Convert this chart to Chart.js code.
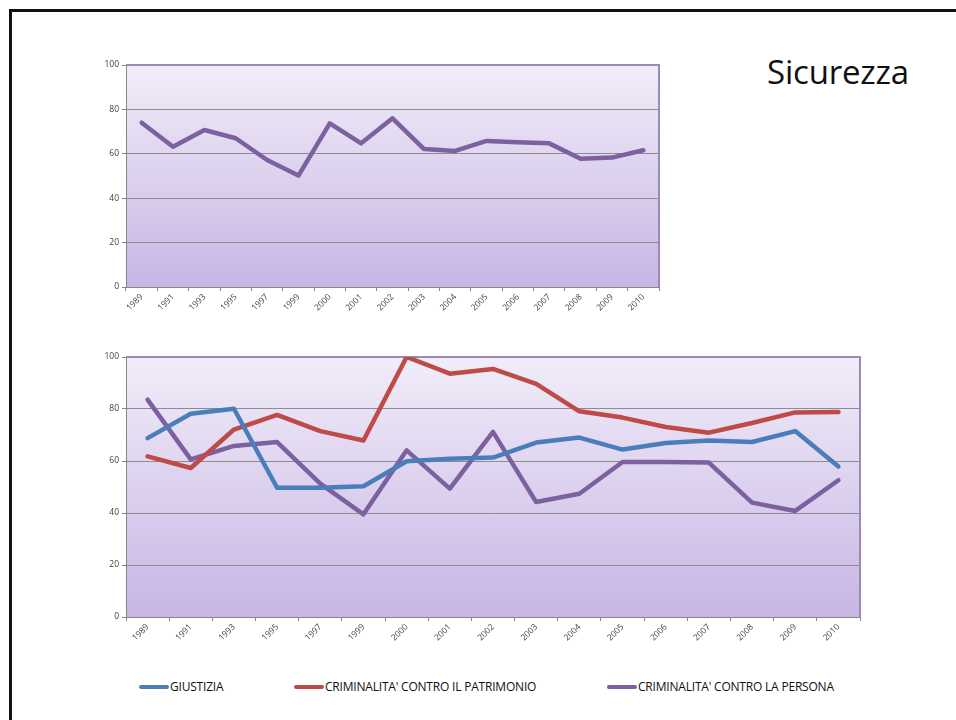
<!DOCTYPE html>
<html>
<head>
<meta charset="utf-8">
<script src="https://cdn.jsdelivr.net/npm/chart.js@4/dist/chart.umd.min.js"></script>
<style>
  html, body { margin: 0; padding: 0; background: #fff; overflow: hidden; }
  body { width: 956px; height: 720px; position: relative; font-family: "Open Sans", sans-serif; }
  .frame { position: absolute; left: 9px; top: 9px; width: 1000px; height: 1000px; border: 3px solid #111; box-sizing: border-box; }
  .title { position: absolute; left: 767px; top: 52px; font-size: 33px; line-height: 40px; color: #111; letter-spacing: -0.2px; }
  canvas { position: absolute; }
  #top-chart { left: 80px; top: 55px; }
  #bottom-chart { left: 80px; top: 345px; }
  .legend { position: absolute; top: 679px; left: 0; width: 956px; height: 16px; font-size: 12px; color: #111; }
  .legend-item { position: absolute; top: 0; white-space: nowrap; line-height: 16px; letter-spacing: -0.2px; }
  .legend-item span.swatch { display: inline-block; width: 30px; height: 4px; border-radius: 2px; vertical-align: middle; margin-right: 1px; position: relative; top: -1px; }
</style>
</head>
<body>
<div class="frame"></div>
<div class="title">Sicurezza</div>
<canvas id="top-chart" width="590" height="275"></canvas>
<canvas id="bottom-chart" width="800" height="315"></canvas>
<div class="legend" id="legend"></div>

<script>
const years = ['1989', '1991', '1993', '1995', '1997', '1999', '2000', '2001', '2002',
    '2003', '2004', '2005', '2006', '2007', '2008', '2009', '2010'];

// top chart: sicurezza
const sicurezza = [74.0, 63.2, 70.7, 67.0, 57.2, 50.2, 73.7, 64.7, 76.0,
    62.2, 61.3, 65.8, 65.2, 64.7, 57.8, 58.3, 61.6];

// bottom chart
const seriesNames = ['GIUSTIZIA', "CRIMINALITA' CONTRO IL PATRIMONIO", "CRIMINALITA' CONTRO LA PERSONA"];
const giustizia = [68.8, 78.2, 80.1, 49.7, 49.7, 50.3, 59.9, 60.9, 61.3,
    67.1, 69.0, 64.4, 66.9, 67.9, 67.3, 71.5, 57.9];
const patrimonio = [61.8, 57.3, 72.1, 77.7, 71.5, 67.9, 100, 93.6, 95.4,
    89.7, 79.1, 76.7, 73.1, 70.9, 74.6, 78.7, 78.8];
const persona = [83.6, 60.6, 65.8, 67.3, 51.3, 39.5, 64.1, 49.4, 71.2,
    44.2, 47.4, 59.6, 59.6, 59.4, 44.0, 40.8, 52.6];

const yTicks = [0, 20, 40, 60, 80, 100];

const colors = ['#4a7ebb', '#be4b48', '#7d60a0'];

// plot area background + frame
const plotArea = {
    id: 'plotArea',
    beforeDraw(chart) {
        const a = chart.chartArea;
        const ctx = chart.ctx;
        const g = ctx.createLinearGradient(0, a.top, 0, a.bottom);
        g.addColorStop(0, '#f1edf9');
        g.addColorStop(1, '#c8b5e4');
        ctx.save();
        ctx.fillStyle = g;
        ctx.fillRect(a.left, a.top, a.right - a.left, a.bottom - a.top);
        ctx.restore();
    },
    beforeDatasetsDraw(chart) {
        const a = chart.chartArea;
        const ctx = chart.ctx;
        ctx.save();
        ctx.strokeStyle = '#9a8ab8';
        ctx.lineWidth = 2;
        ctx.beginPath();
        ctx.moveTo(a.left, a.top);
        ctx.lineTo(a.right, a.top);
        ctx.lineTo(a.right, a.bottom);
        ctx.stroke();
        ctx.restore();
    }
};

function makeOptions(pad) {
    return {
        responsive: false,
        animation: false,
        layout: { padding: pad },
        plugins: {
            legend: { display: false },
            tooltip: { enabled: false }
        },
        elements: {
            point: { radius: 0 },
            line: { tension: 0, borderCapStyle: 'round', borderJoinStyle: 'round' }
        },
        scales: {
            x: {
                offset: true,
                grid: { offset: true, drawOnChartArea: false, drawTicks: true, tickLength: 4, tickColor: '#868686' },
                border: { color: '#868686', width: 1 },
                ticks: {
                    autoSkip: false, minRotation: 45, maxRotation: 45, padding: 1,
                    color: '#404040', font: { family: 'Open Sans', size: 8.5 }
                },
                afterFit(scale) { scale.height = pad.xh; }
            },
            y: {
                min: 0, max: 100,
                afterBuildTicks(scale) { scale.ticks = yTicks.map(v => ({ value: v })); },
                grid: { color: '#8c8c8c', lineWidth: 1, drawTicks: true, tickLength: 4, tickColor: '#868686' },
                border: { color: '#868686', width: 1 },
                ticks: { padding: 3, color: '#404040', font: { family: 'Open Sans', size: 8.5 } },
                afterFit(scale) { scale.width = 46; }
            }
        }
    };
}

new Chart(document.getElementById('top-chart'), {
    type: 'line',
    data: {
        labels: years,
        datasets: [{
            label: 'Sicurezza',
            data: sicurezza,
            borderColor: colors[2],
            borderWidth: 4.5,
            fill: false
        }]
    },
    options: makeOptions({ left: 0, top: 10, right: 11, bottom: 0, xh: 43 }),
    plugins: [plotArea]
});

const bottomData = [giustizia, patrimonio, persona];

new Chart(document.getElementById('bottom-chart'), {
    type: 'line',
    data: {
        labels: years,
        datasets: bottomData.map((d, i) => ({
            label: seriesNames[i],
            data: d,
            borderColor: colors[i],
            borderWidth: 4.5,
            fill: false
        }))
    },
    options: makeOptions({ left: 0, top: 12, right: 20, bottom: 0, xh: 43 }),
    plugins: [plotArea]
});

// legend below the bottom chart
const legendX = [139, 294, 607];
const legend = document.getElementById('legend');
seriesNames.forEach((name, i) => {
    const item = document.createElement('div');
    item.className = 'legend-item';
    item.style.left = legendX[i] + 'px';
    item.innerHTML = '<span class="swatch" style="background:' + colors[i] + '"></span>' + name;
    legend.appendChild(item);
});
</script>
</body>
</html>
